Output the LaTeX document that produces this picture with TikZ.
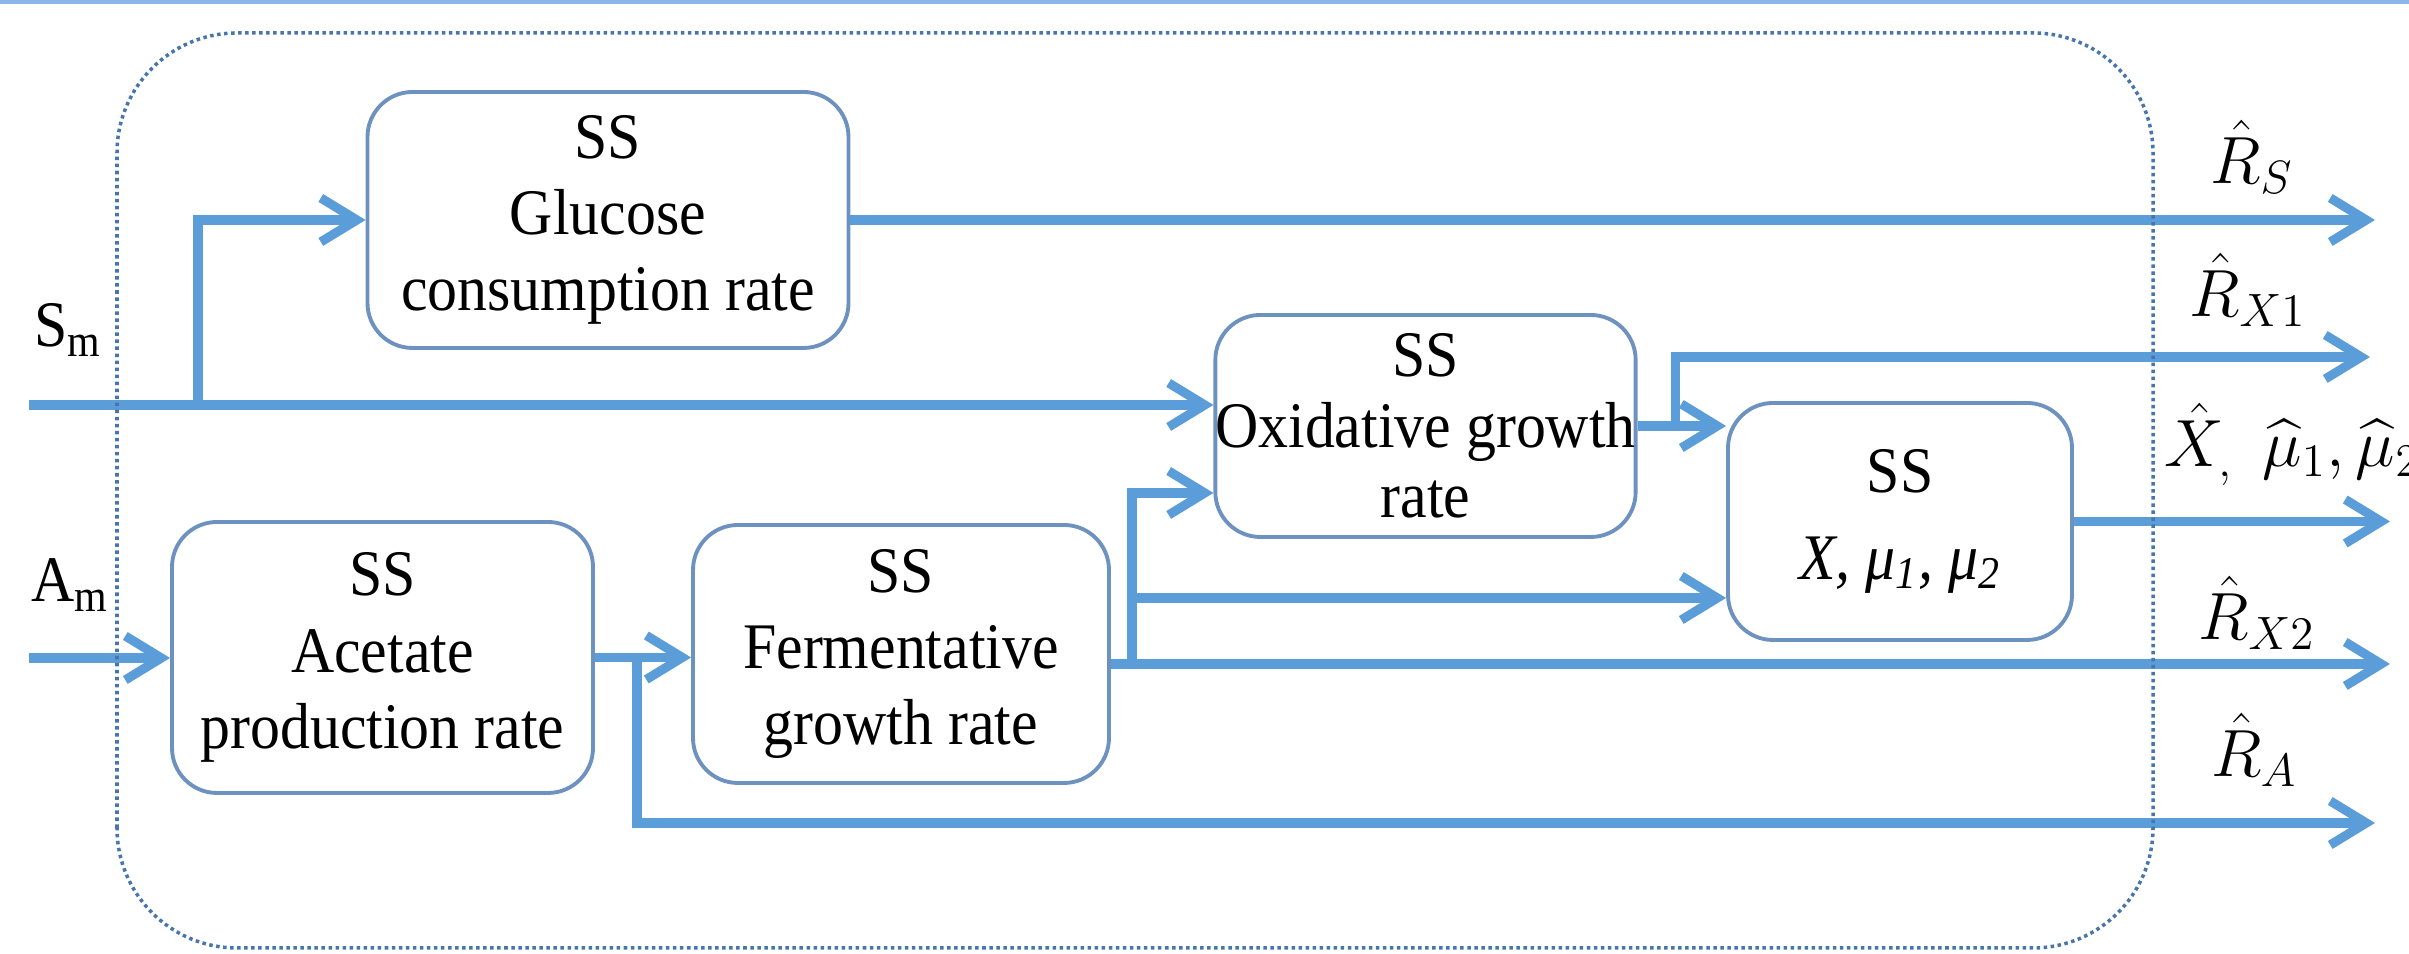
\RequirePackage{fix-cm}
\documentclass[tikz,border=0pt]{standalone}
\usepackage{amsmath}
\usepackage{fontspec}
\setmainfont{Liberation Serif}[FakeStretch=0.92]
\usetikzlibrary{arrows.meta,positioning,calc}
\definecolor{FlowBlue}{RGB}{91,157,217}
\definecolor{BoxEdge}{RGB}{110,146,192}
\definecolor{FrameBlue}{RGB}{72,118,172}
\definecolor{TopBlue}{RGB}{140,182,232}

\begin{document}
\begin{tikzpicture}[
  ssbox/.style={
    draw=BoxEdge,
    rounded corners=4.5mm,
    line width=1.1pt,
    align=center,
    inner sep=0pt,
    font=\fontsize{18.5}{21.7}\selectfont
  },
  flow/.style={draw=FlowBlue, line width=2.6pt, -{Straight Barb[length=3.6mm,width=4.4mm]}},
  frame/.style={draw=FrameBlue, densely dotted, line width=1pt, rounded corners=12mm},
  lbl/.style={font=\fontsize{18.5}{20}\selectfont, inner sep=1pt},
  mlbl/.style={font=\fontsize{19}{22}\selectfont, inner sep=1pt}
]
\useasboundingbox (0,0) rectangle (24.09,9.54);
\draw[TopBlue, line width=1.2pt] (0,9.52) -- (24.09,9.52);

% Estimator blocks
\node[ssbox, minimum width=4.81cm, minimum height=2.56cm] (glucose) at (6.08,7.34) {SS\\Glucose\\consumption rate};
\node[ssbox, minimum width=3.89cm, minimum height=2.22cm, font=\fontsize{18.5}{20}\selectfont] (oxid) at (14.255,5.28) {SS\\Oxidative growth\\rate};
\node[ssbox, minimum width=3.44cm, minimum height=2.37cm, font=\fontsize{18.5}{24.5}\selectfont] (ssx) at (19.0,4.325) {SS\\\textit{X, μ\textsubscript{1}, μ\textsubscript{2}}};
\node[ssbox, minimum width=4.21cm, minimum height=2.71cm] (acetate) at (3.825,2.965) {SS\\Acetate\\production rate};
\node[ssbox, minimum width=4.16cm, minimum height=2.58cm] (ferm)    at (9.01,3.0) {SS\\Fermentative\\growth rate};

% Inputs, branch points and output ends
\coordinate (smin) at (0.29,5.49);
\coordinate (amin) at (0.29,2.96);
\path (smin) -- ++(1.69,0) coordinate (smbr);
\path (oxid.east) -- ++(0.38,0) coordinate (oxbr);
\path (acetate.east) -- ++(0.42,0) coordinate (acbr);
\path ([yshift=-1mm]ferm.east) coordinate (fout) -- ++(0.21,0) coordinate (fbr);
\coordinate (rSend)  at (23.75,7.37);
\coordinate (rX1end) at (23.70,5.97);
\coordinate (xhend)  at (23.90,4.35);
\coordinate (rX2end) at (23.90,2.90);
\coordinate (rAend)  at (23.75,1.31);

% Signal flow
\draw[flow] (smin) -- (smin -| oxid.west);
\draw[flow] (smbr) |- (glucose.west);
\draw[flow] (glucose.east) -- (glucose.east -| rSend);
\draw[flow] (oxid.east) -- (oxid.east -| ssx.west);
\draw[flow] (oxbr) |- (rX1end);
\draw[flow] (ssx.east) -- (ssx.east -| xhend);
\draw[flow] (amin) -- (amin -| acetate.west);
\draw[flow] (acetate.east) -- (acetate.east -| ferm.west);
\draw[flow] (acbr) |- (rAend);
\draw[flow] (fout) -- (fout -| rX2end);
\draw[flow] (fbr) |- ([yshift=-6.7mm]oxid.west);
\draw[flow] (fbr) |- ([yshift=-7.65mm]ssx.west);

% Observer boundary
\draw[frame] (1.17,0.06) rectangle (21.53,9.21);

% Signal labels
\node[lbl] (sm) at (0.68,6.24) {S\textsubscript{m}};
\node[lbl] (am) at (0.70,3.69) {A\textsubscript{m}};
\node[mlbl] (rs)  at (22.52,7.97) {$\hat{R}_S$};
\node[mlbl] (rx1) at (22.48,6.64) {$\hat{R}_{X1}$};
\node[mlbl, anchor=west] (xh) at (21.60,5.10) {$\hat{X}_{,}\;\,\widehat{\mu}_1, \widehat{\mu}_2$};
\node[mlbl] (rx2) at (22.57,3.41) {$\hat{R}_{X2}$};
\node[mlbl] (ra)  at (22.54,2.04) {$\hat{R}_A$};
\end{tikzpicture}
\end{document}
